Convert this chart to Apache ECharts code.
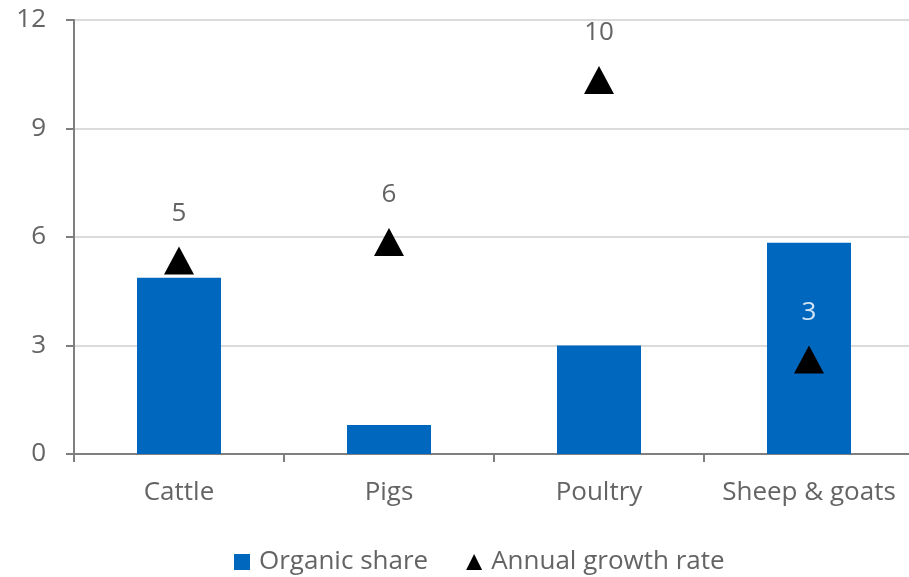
<!DOCTYPE html>
<html>
<head>
<meta charset="utf-8">
<script src="https://cdn.jsdelivr.net/npm/echarts@6/dist/echarts.min.js"></script>
<style>
  html, body { margin: 0; padding: 0; background: #fff; overflow: hidden; }
  #chart { width: 920px; height: 577px; }
</style>
</head>
<body>
<div id="chart"></div>
<script>
// Livestock categories
const categories = ['Cattle', 'Pigs', 'Poultry', 'Sheep & goats'];
// Organic share of each livestock type (%)
const organicShare = [4.87, 0.8, 3.0, 5.84];
// Annual growth rate (%)
const growthRate = [5.35, 5.86, 10.34, 2.61];
// Value axis ticks
const yTicks = [0, 3, 6, 9, 12];

const FONT = 'Open Sans';
const TEXT = '#646464';
const BLUE = '#0067be';
const FS = 26;

const chart = echarts.init(document.getElementById('chart'), null, { renderer: 'canvas' });

chart.setOption({
  animation: false,
  textStyle: { fontFamily: FONT },
  // the plot runs slightly past the right edge of the visible page
  grid: { left: 74, width: 840, top: 20, bottom: 123, containLabel: false },
  legend: {
    top: 544,
    left: 229,
    itemGap: 38,
    itemWidth: 16,
    itemHeight: 16,
    textStyle: { fontFamily: FONT, fontSize: FS, color: TEXT, padding: [0, 0, 0, 4] },
    data: [
      { name: 'Organic share', icon: 'rect' },
      { name: 'Annual growth rate', icon: 'triangle' }
    ]
  },
  xAxis: {
    type: 'category',
    data: categories,
    axisLine: { lineStyle: { color: '#7f7f7f', width: 2 } },
    axisTick: { show: true, length: 8, lineStyle: { color: '#7f7f7f', width: 2 } },
    axisLabel: { fontFamily: FONT, fontSize: FS, color: TEXT, margin: 26, interval: 0 }
  },
  yAxis: {
    type: 'value',
    min: yTicks[0],
    max: yTicks[yTicks.length - 1],
    interval: 3,
    axisLine: { show: true, lineStyle: { color: '#7f7f7f', width: 2 } },
    axisTick: { show: true, length: 8, lineStyle: { color: '#7f7f7f', width: 2 } },
    axisLabel: { fontFamily: FONT, fontSize: FS, color: TEXT, margin: 28 },
    splitLine: { lineStyle: { color: '#cfcfcf', width: 1.5 } }
  },
  series: [
    {
      name: 'Organic share',
      type: 'bar',
      data: organicShare,
      barWidth: 84,
      itemStyle: { color: BLUE },
      z: 2
    },
    {
      name: 'Annual growth rate',
      type: 'scatter',
      data: growthRate.map((v, i) => ({
        value: v,
        label: i === 3 ? { color: '#d2e4f6' } : undefined
      })),
      symbol: 'triangle',
      symbolSize: [30, 28],
      itemStyle: { color: '#000000', opacity: 1 },
      label: {
        show: true,
        position: 'inside',
        offset: [0, -47],
        fontFamily: FONT,
        fontSize: FS,
        color: TEXT,
        formatter: p => Math.round(p.value)
      },
      z: 3
    }
  ]
});
</script>
</body>
</html>
